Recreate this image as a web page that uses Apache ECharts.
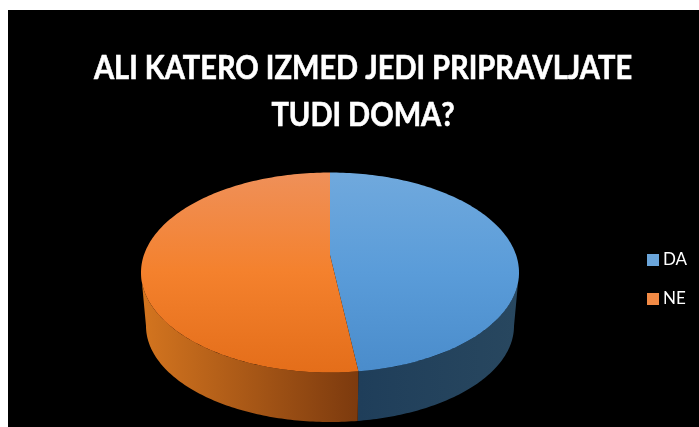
<!DOCTYPE html>
<html>
<head>
<meta charset="utf-8">
<style>html,body{margin:0;padding:0;background:#fff}#chart{width:699px;height:427px}</style>
<script src="https://cdn.jsdelivr.net/npm/echarts@6/dist/echarts.min.js"></script>
</head>
<body>
<div id="chart"></div>
<script>
const titleLines = ['ALI KATERO IZMED JEDI PRIPRAVLJATE', 'TUDI DOMA?'];
const categories = ['DA', 'NE'];
const values = [47.6, 52.4];

// Pixel geometry of the tilted disc: upper face, lower rim, and the
// foreshortened hub where the slices meet.
const disc = {
  cx: 330, topCy: 272.5, topRx: 189, topRy: 100,
  baseCy: 326, baseRx: 184, baseRy: 96, hubY: 255
};
const total = values.reduce((a, b) => a + b, 0);

function grad(x, y, x2, y2, stops) {
  return { type: 'linear', global: true, x, y, x2, y2,
    colorStops: stops.map((color, i) => ({ offset: i / (stops.length - 1), color })) };
}
const faceFill = [
  grad(0, 172, 0, 372, ['#70a9dd', '#5a9cd9', '#4a8ccb']),
  grad(0, 172, 0, 372, ['#ef9059', '#f4812d', '#e46e1a'])
];
const sideFill = [
  grad(358, 0, 515, 0, ['#1f3e5a', '#28475f']),
  grad(141, 0, 358, 0, ['#d4751f', '#7c3a0e'])
];
const legendFill = [
  grad(0, 254, 0, 266, ['#6aa5da', '#4a8ccb']),
  grad(0, 292, 0, 305, ['#f28a45', '#e46e1a'])
];

function rimPoint(turn, cy, rx, ry) {
  const t = turn * 2 * Math.PI;
  return [disc.cx + rx * Math.sin(t), cy - ry * Math.cos(t)];
}
function arc(from, to, cy, rx, ry) {
  const steps = Math.max(2, Math.ceil(Math.abs(to - from) * 360));
  const pts = [];
  for (let i = 0; i <= steps; i++) {
    pts.push(rimPoint(from + (to - from) * i / steps, cy, rx, ry));
  }
  return pts;
}

function sliceRenderer(index) {
  const start = values.slice(0, index).reduce((a, b) => a + b, 0) / total;
  const end = start + values[index] / total;
  return function () {
    const children = [];
    // The rim is only visible along the near half of the disc.
    const sFrom = Math.max(start, 0.25), sTo = Math.min(end, 0.75);
    if (sTo > sFrom) {
      children.push({
        type: 'polygon',
        shape: { points: arc(sFrom, sTo, disc.topCy, disc.topRx, disc.topRy)
          .concat(arc(sTo, sFrom, disc.baseCy, disc.baseRx, disc.baseRy)) },
        style: { fill: sideFill[index] }
      });
    }
    children.push({
      type: 'polygon',
      shape: { points: [[disc.cx, disc.hubY]]
        .concat(arc(start, end, disc.topCy, disc.topRx, disc.topRy)) },
      style: { fill: faceFill[index] }
    });
    return { type: 'group', children };
  };
}

const chart = echarts.init(document.getElementById('chart'), null, { renderer: 'canvas' });
chart.setOption({
  animation: false,
  backgroundColor: '#ffffff',
  graphic: [{
    type: 'rect', z: -10, silent: true,
    shape: { x: 8, y: 10, width: 691, height: 417 },
    style: { fill: '#000000' }
  }, {
    // Heading squeezed horizontally to the narrow proportions of the display face.
    type: 'text', silent: true, z: 5,
    x: 363, y: 45, scaleX: 0.907,
    style: {
      text: titleLines.join('\n'),
      align: 'center', verticalAlign: 'top',
      fill: '#ffffff', stroke: '#ffffff', lineWidth: 0.6,
      fontFamily: 'Lato', fontWeight: 'bold', fontSize: 32, lineHeight: 47
    }
  }],
  legend: {
    data: categories, orient: 'vertical', left: 647, top: 251,
    itemWidth: 12, itemHeight: 12, itemGap: 21, icon: 'rect',
    textStyle: { color: '#ffffff', fontFamily: 'Lato', fontSize: 17, lineHeight: 18, padding: [0, 0, 0, -1] },
    padding: 0
  },
  series: categories.map((name, i) => ({
    type: 'custom', name, coordinateSystem: 'none',
    silent: true, z: i === 0 ? 2 : 3,
    itemStyle: { color: legendFill[i] },
    renderItem: sliceRenderer(i),
    data: [values[i]]
  }))
});
</script>
</body>
</html>
